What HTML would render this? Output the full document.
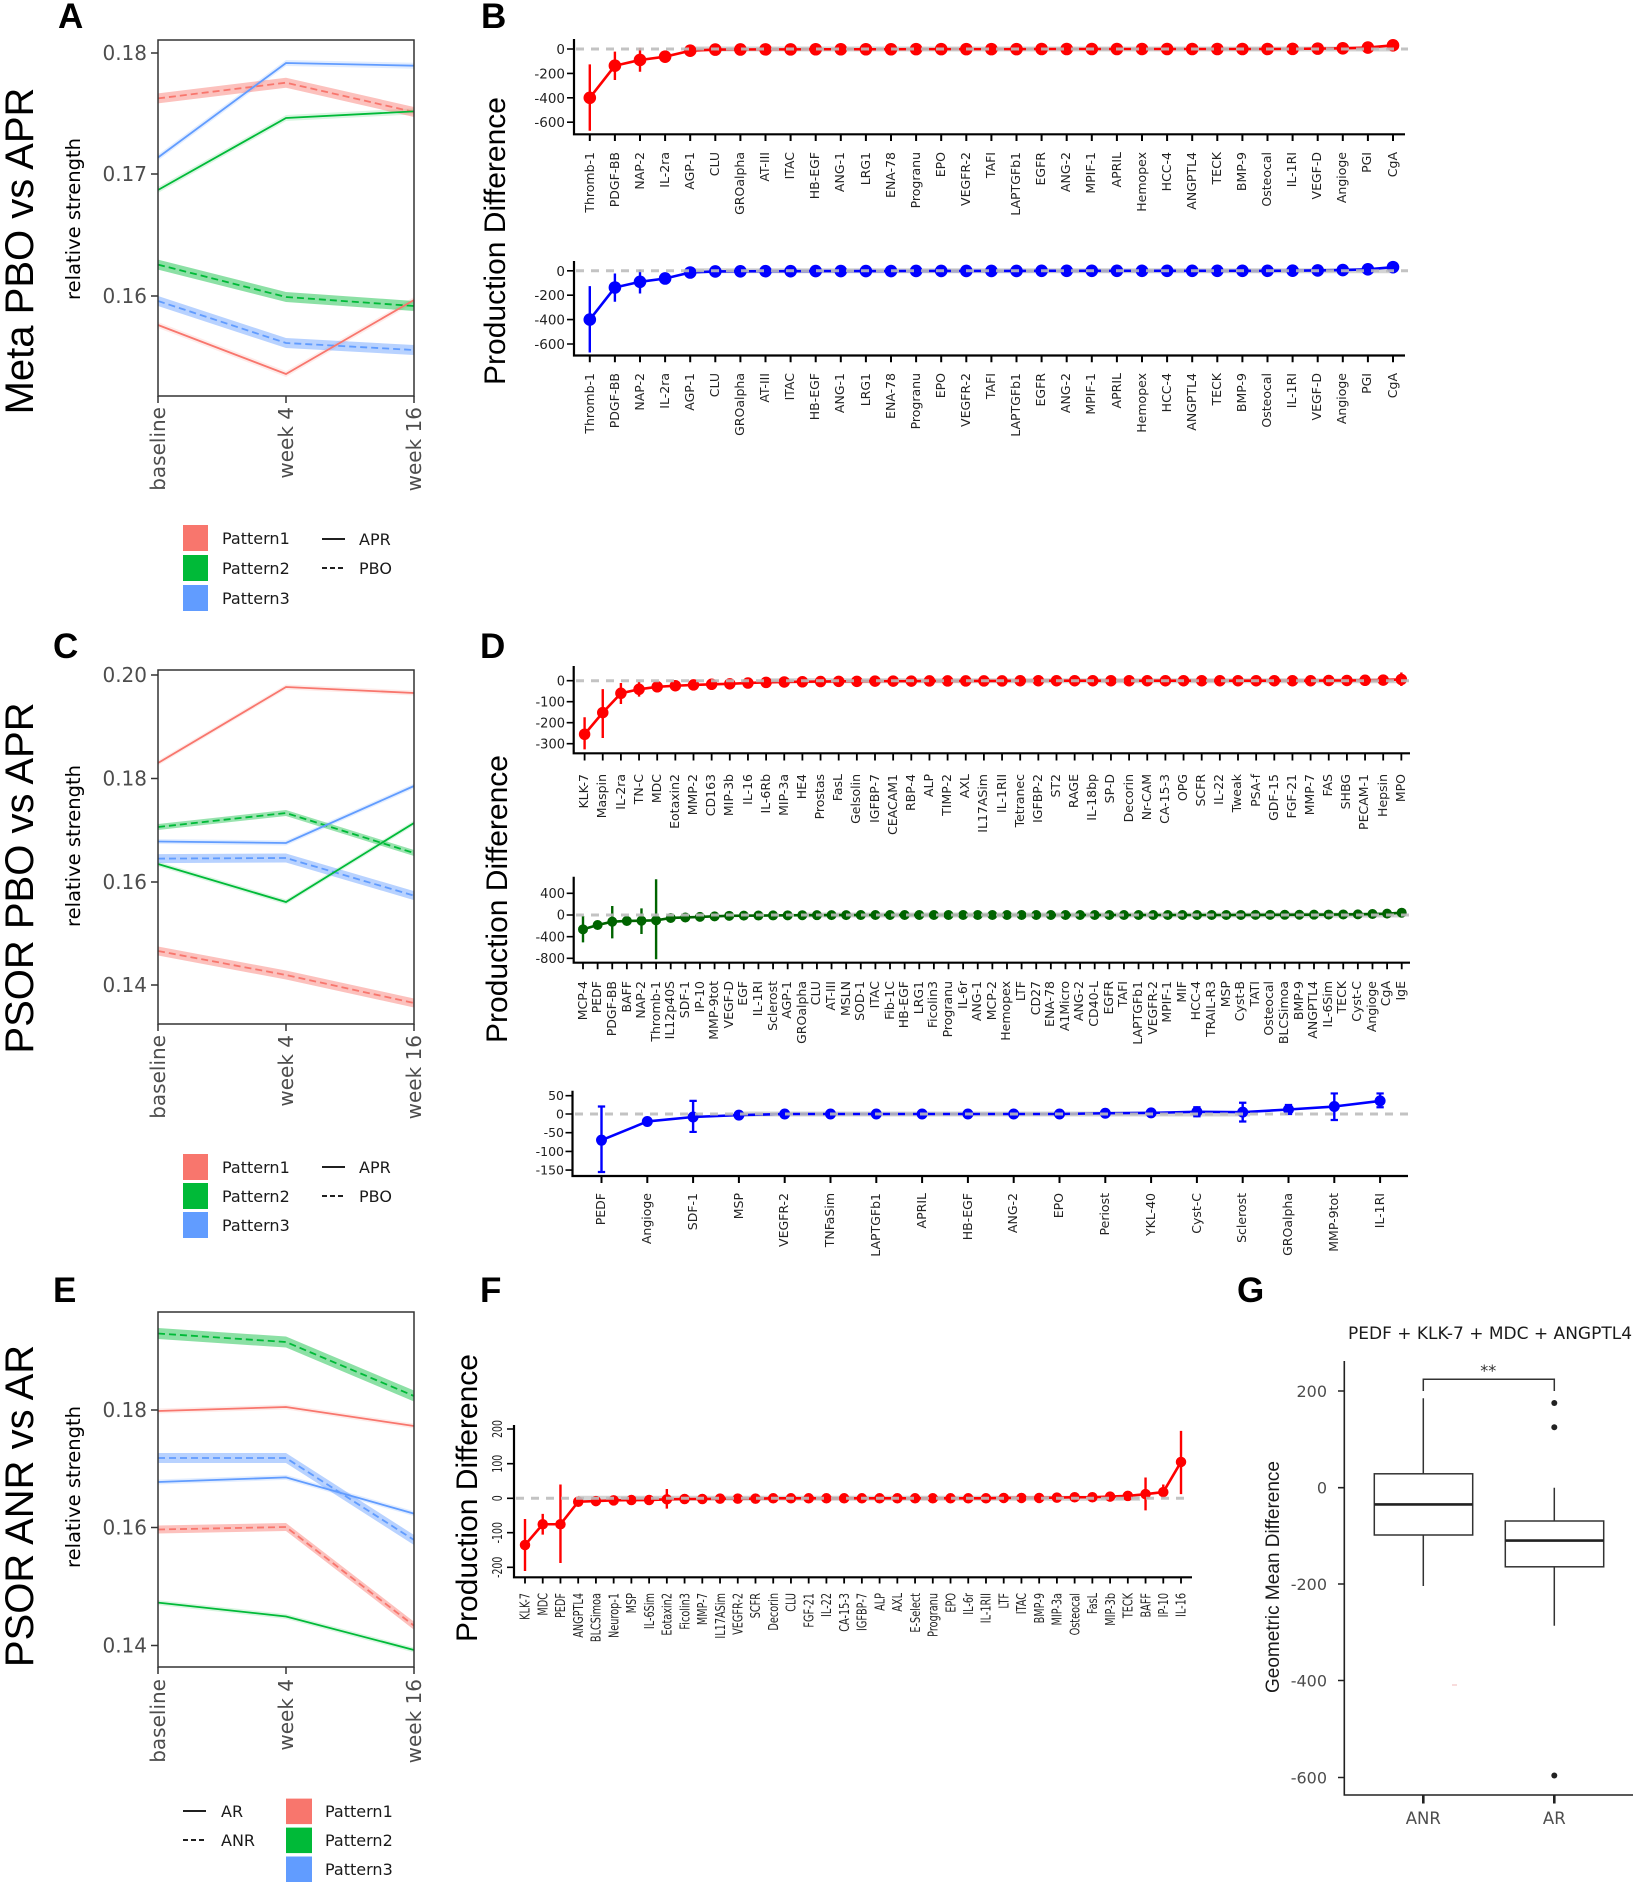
<!DOCTYPE html>
<html><head><meta charset="utf-8"><style>
html,body{margin:0;padding:0;background:#fff}
#w{position:relative;width:1634px;height:1886px;overflow:hidden;background:#fff}
.xl{position:absolute;display:flex;align-items:flex-start;font-family:"DejaVu Sans",sans-serif;font-size:12.5px;color:#222}
.xl>b{font-weight:normal;flex:none;display:flex;justify-content:center;align-items:flex-start}
.xl>b>i{font-style:normal;writing-mode:vertical-rl;transform:rotate(180deg);line-height:1;white-space:nowrap}
.w25>b{width:25.1px}.w18>b{width:18.15px}.w14>b{width:14.62px}.w45>b{width:45.8px}
</style></head><body><div id="w">
<svg width="1634" height="1886" viewBox="0 0 1634 1886" xmlns="http://www.w3.org/2000/svg" style="position:absolute;left:0;top:0">
<style>
.dj{font-family:"DejaVu Sans",sans-serif}
.lb{font-family:"Liberation Sans",sans-serif}
.ns{vector-effect:non-scaling-stroke;fill:none}
</style>
<rect width="1634" height="1886" fill="#fff"/>

<!-- panel letters -->
<g class="lb" font-weight="bold" font-size="35" fill="#000">
<text x="58" y="28">A</text><text x="481" y="28">B</text>
<text x="53" y="658">C</text><text x="480" y="658">D</text>
<text x="53" y="1302">E</text><text x="480" y="1302">F</text>
<text x="1237" y="1302">G</text>
</g>

<!-- row titles -->
<g class="lb" font-size="40" fill="#000" text-anchor="middle">
<text transform="translate(33,251) rotate(-90)">Meta PBO vs APR</text>
<text transform="translate(33,878) rotate(-90)">PSOR PBO vs APR</text>
<text transform="translate(33,1506) rotate(-90)">PSOR ANR vs AR</text>
</g>
<g class="dj" font-size="19.5" fill="#000" text-anchor="middle">
<text transform="translate(80,219) rotate(-90)">relative strength</text>
<text transform="translate(80,846) rotate(-90)">relative strength</text>
<text transform="translate(80,1487) rotate(-90)">relative strength</text>
</g>
<g class="lb" font-size="30" fill="#000" text-anchor="middle">
<text transform="translate(505,241) rotate(-90)">Production Difference</text>
<text transform="translate(507,899) rotate(-90)">Production Difference</text>
<text transform="translate(477,1498) rotate(-90)">Production Difference</text>
</g>

<!-- ============ PANEL A ============ -->
<g>
<polygon points="158,154.5 286,60 414,62.7 414,68.7 286,66 158,160.5" fill="#619CFF" opacity=".18"/>
<polygon points="158,187 286,115 414,108.4 414,114.4 286,121 158,193" fill="#00BA38" opacity=".15"/>
<polygon points="158,322 286,371 414,297 414,303 286,377 158,328" fill="#F8766D" opacity=".15"/>
<polygon points="158,93.4 286,77.7 414,107 414,117 286,87.7 158,103.4" fill="#F8766D" opacity=".45"/>
<polygon points="158,259.6 286,292 414,301 414,311 286,302 158,269.6" fill="#00BA38" opacity=".45"/>
<polygon points="158,296 286,338 414,345 414,355 286,348 158,306" fill="#619CFF" opacity=".45"/>
<g fill="none" stroke-width="1.8">
<polyline points="158,98.4 286,82.7 414,112" stroke="#F8766D" stroke-dasharray="7 4"/>
<polyline points="158,264.6 286,297 414,306" stroke="#00BA38" stroke-dasharray="7 4"/>
<polyline points="158,301 286,343 414,350" stroke="#619CFF" stroke-dasharray="7 4"/>
<polyline points="158,157.5 286,63 414,65.7" stroke="#619CFF"/>
<polyline points="158,190 286,118 414,111.4" stroke="#00BA38"/>
<polyline points="158,325 286,374 414,300" stroke="#F8766D"/>
</g>
<rect x="158" y="40" width="256" height="356" fill="none" stroke="#333" stroke-width="1.5"/>
<path d="M151,53H158M151,174H158M151,296H158M158,396V403M286,396V403M414,396V403" stroke="#333" stroke-width="1.5"/>
<g class="dj" font-size="20" fill="#4d4d4d" text-anchor="end">
<text x="147" y="60">0.18</text><text x="147" y="181">0.17</text><text x="147" y="303">0.16</text>
<text transform="translate(158,407) rotate(-90)" dy="0.35em">baseline</text>
<text transform="translate(286,407) rotate(-90)" dy="0.35em">week 4</text>
<text transform="translate(414,407) rotate(-90)" dy="0.35em">week 16</text>
</g>
<rect x="183" y="525" width="25" height="26" fill="#F8766D"/>
<rect x="183" y="555" width="25" height="26" fill="#00BA38"/>
<rect x="183" y="585" width="25" height="26" fill="#619CFF"/>
<path d="M322,539H345" stroke="#000" stroke-width="1.8"/>
<path d="M322,568H345" stroke="#000" stroke-width="1.8" stroke-dasharray="5 3"/>
<g class="dj" font-size="16" fill="#1a1a1a">
<text x="222" y="544">Pattern1</text><text x="222" y="574">Pattern2</text><text x="222" y="604">Pattern3</text>
<text x="359" y="545">APR</text><text x="359" y="574">PBO</text>
</g>
</g>

<!-- ============ PANEL C ============ -->
<g>
<polygon points="158,760.5 286,684.5 414,690.5 414,695.5 286,689.5 158,765.5" fill="#F8766D" opacity=".15"/>
<polygon points="158,839 286,840.5 414,783.5 414,788.5 286,845.5 158,844" fill="#619CFF" opacity=".18"/>
<polygon points="158,861.5 286,899.5 414,820.5 414,825.5 286,904.5 158,866.5" fill="#00BA38" opacity=".15"/>
<polygon points="158,824 286,810 414,850 414,856 286,816 158,830" fill="#00BA38" opacity=".4"/>
<polygon points="158,854.1 286,853.5 414,891.1 414,900.1 286,862.5 158,863.1" fill="#619CFF" opacity=".45"/>
<polygon points="158,946.5 286,970.5 414,998.5 414,1007.5 286,979.5 158,955.5" fill="#F8766D" opacity=".45"/>
<g fill="none" stroke-width="1.8">
<polyline points="158,827 286,813 414,853" stroke="#00BA38" stroke-dasharray="7 4"/>
<polyline points="158,858.6 286,858 414,895.6" stroke="#619CFF" stroke-dasharray="7 4"/>
<polyline points="158,951 286,975 414,1003" stroke="#F8766D" stroke-dasharray="7 4"/>
<polyline points="158,763 286,687 414,693" stroke="#F8766D"/>
<polyline points="158,841.5 286,843 414,786" stroke="#619CFF"/>
<polyline points="158,864 286,902 414,823" stroke="#00BA38"/>
</g>
<rect x="158" y="670" width="256" height="354" fill="none" stroke="#333" stroke-width="1.5"/>
<path d="M151,675H158M151,778.5H158M151,882H158M151,985H158M158,1024V1031M286,1024V1031M414,1024V1031" stroke="#333" stroke-width="1.5"/>
<g class="dj" font-size="20" fill="#4d4d4d" text-anchor="end">
<text x="147" y="682">0.20</text><text x="147" y="785.5">0.18</text><text x="147" y="889">0.16</text><text x="147" y="992">0.14</text>
<text transform="translate(158,1035) rotate(-90)" dy="0.35em">baseline</text>
<text transform="translate(286,1035) rotate(-90)" dy="0.35em">week 4</text>
<text transform="translate(414,1035) rotate(-90)" dy="0.35em">week 16</text>
</g>
<rect x="183" y="1154" width="25" height="26" fill="#F8766D"/>
<rect x="183" y="1183" width="25" height="26" fill="#00BA38"/>
<rect x="183" y="1212" width="25" height="26" fill="#619CFF"/>
<path d="M322,1167H345" stroke="#000" stroke-width="1.8"/>
<path d="M322,1196H345" stroke="#000" stroke-width="1.8" stroke-dasharray="5 3"/>
<g class="dj" font-size="16" fill="#1a1a1a">
<text x="222" y="1173">Pattern1</text><text x="222" y="1202">Pattern2</text><text x="222" y="1231">Pattern3</text>
<text x="359" y="1173">APR</text><text x="359" y="1202">PBO</text>
</g>
</g>

<!-- ============ PANEL E ============ -->
<g>
<polygon points="158,1408.5 286,1404.5 414,1423.5 414,1428.5 286,1409.5 158,1413.5" fill="#F8766D" opacity=".15"/>
<polygon points="158,1479.5 286,1474.9 414,1511.1 414,1516.1 286,1479.9 158,1484.5" fill="#619CFF" opacity=".18"/>
<polygon points="158,1600.1 286,1614 414,1647.5 414,1652.5 286,1619 158,1605.1" fill="#00BA38" opacity=".15"/>
<polygon points="158,1328 286,1336.5 414,1390.5 414,1401.5 286,1347.5 158,1339" fill="#00BA38" opacity=".45"/>
<polygon points="158,1453 286,1453 414,1535 414,1545 286,1463 158,1463" fill="#619CFF" opacity=".45"/>
<polygon points="158,1525.5 286,1523 414,1621.7 414,1629.7 286,1531 158,1533.5" fill="#F8766D" opacity=".45"/>
<g fill="none" stroke-width="1.8">
<polyline points="158,1333.5 286,1342 414,1396" stroke="#00BA38" stroke-dasharray="7 4"/>
<polyline points="158,1458 286,1458 414,1540" stroke="#619CFF" stroke-dasharray="7 4"/>
<polyline points="158,1529.5 286,1527 414,1625.7" stroke="#F8766D" stroke-dasharray="7 4"/>
<polyline points="158,1411 286,1407 414,1426" stroke="#F8766D"/>
<polyline points="158,1482 286,1477.4 414,1513.6" stroke="#619CFF"/>
<polyline points="158,1602.6 286,1616.5 414,1650" stroke="#00BA38"/>
</g>
<rect x="158" y="1312" width="256" height="355" fill="none" stroke="#333" stroke-width="1.5"/>
<path d="M151,1410H158M151,1527.5H158M151,1645.5H158M158,1667V1674M286,1667V1674M414,1667V1674" stroke="#333" stroke-width="1.5"/>
<g class="dj" font-size="20" fill="#4d4d4d" text-anchor="end">
<text x="147" y="1417">0.18</text><text x="147" y="1534.5">0.16</text><text x="147" y="1652.5">0.14</text>
<text transform="translate(158,1679) rotate(-90)" dy="0.35em">baseline</text>
<text transform="translate(286,1679) rotate(-90)" dy="0.35em">week 4</text>
<text transform="translate(414,1679) rotate(-90)" dy="0.35em">week 16</text>
</g>
<path d="M183,1811H206" stroke="#000" stroke-width="1.8"/>
<path d="M183,1840H206" stroke="#000" stroke-width="1.8" stroke-dasharray="5 3"/>
<rect x="286" y="1798.6" width="26" height="25.5" fill="#F8766D"/>
<rect x="286" y="1827.6" width="26" height="25.5" fill="#00BA38"/>
<rect x="286" y="1856.5" width="26" height="25.5" fill="#619CFF"/>
<g class="dj" font-size="16" fill="#1a1a1a">
<text x="221" y="1817">AR</text><text x="221" y="1846">ANR</text>
<text x="325" y="1817">Pattern1</text><text x="325" y="1846">Pattern2</text><text x="325" y="1875">Pattern3</text>
</g>
</g>

<!-- ============ PANEL B (red) ============ -->
<path d="M690,49H1395" stroke="#d4d4d4" stroke-width="5"/>
<g transform="translate(589.8,49) scale(25.1,-0.122)" stroke="#ff0000">
<polyline class="ns" stroke-width="2.6" stroke-linejoin="round" points="0,-400 1,-137 2,-90 3,-63 4,-14 5,-5 6,-4 7,-3 8,-3 9,-2 10,-2 11,-2 12,-2 13,-1 14,-1 15,-1 16,-1 17,-1 18,0 27,0 28,1 29,3 30,6 31,12 32,30"/>
<path class="ns" stroke-width="2.4" d="M0,-126V-670M1,-22V-254M2,11V-186M3,-48V-78M4,-2V-26M31,22V2M32,45V15"/>
<path class="ns" stroke-width="12.6" stroke-linecap="round" d="M0,-400v.01M1,-137v.01M2,-90v.01M3,-63v.01M4,-14v.01M5,-5v.01M6,-4v.01M7,-3v.01M8,-3v.01M9,-2v.01M10,-2v.01M11,-2v.01M12,-2v.01M13,-1v.01M14,-1v.01M15,-1v.01M16,-1v.01M17,-1v.01M18,0v.01M19,0v.01M20,0v.01M21,0v.01M22,0v.01M23,0v.01M24,0v.01M25,0v.01M26,0v.01M27,0v.01M28,1v.01M29,3v.01M30,6v.01M31,12v.01M32,30v.01"/>
</g>
<path d="M576,49H1408" stroke="#bdbdbd" stroke-width="3" stroke-dasharray="8 7" opacity=".9"/>
<path d="M574,39V134.3H1405" fill="none" stroke="#000" stroke-width="2.2"/>
<path d="M567,49H574M567,73.4H574M567,97.8H574M567,122.2H574" stroke="#000" stroke-width="1.6"/>
<path d="M588.8,137.5H1394" stroke="#000" stroke-width="7" stroke-dasharray="2 23.1"/>
<g class="dj" font-size="13.5" fill="#222" text-anchor="end">
<text x="565" y="54">0</text><text x="565" y="78.4">-200</text><text x="565" y="102.8">-400</text><text x="565" y="127.2">-600</text>
</g>

<!-- ============ PANEL B (blue) ============ -->
<path d="M690,270.8H1395" stroke="#d4d4d4" stroke-width="5"/>
<g transform="translate(589.8,270.8) scale(25.1,-0.122)" stroke="#0000ff">
<polyline class="ns" stroke-width="2.6" stroke-linejoin="round" points="0,-400 1,-137 2,-90 3,-63 4,-14 5,-5 6,-4 7,-3 8,-3 9,-2 10,-2 11,-2 12,-2 13,-1 14,-1 15,-1 16,-1 17,-1 18,0 27,0 28,1 29,3 30,6 31,12 32,30"/>
<path class="ns" stroke-width="2.4" d="M0,-126V-670M1,-22V-254M2,11V-186M3,-48V-78M4,-2V-26M31,22V2M32,45V15"/>
<path class="ns" stroke-width="12.6" stroke-linecap="round" d="M0,-400v.01M1,-137v.01M2,-90v.01M3,-63v.01M4,-14v.01M5,-5v.01M6,-4v.01M7,-3v.01M8,-3v.01M9,-2v.01M10,-2v.01M11,-2v.01M12,-2v.01M13,-1v.01M14,-1v.01M15,-1v.01M16,-1v.01M17,-1v.01M18,0v.01M19,0v.01M20,0v.01M21,0v.01M22,0v.01M23,0v.01M24,0v.01M25,0v.01M26,0v.01M27,0v.01M28,1v.01M29,3v.01M30,6v.01M31,12v.01M32,30v.01"/>
</g>
<path d="M576,270.8H1408" stroke="#bdbdbd" stroke-width="3" stroke-dasharray="8 7" opacity=".9"/>
<path d="M574,261V355.5H1405" fill="none" stroke="#000" stroke-width="2.2"/>
<path d="M567,270.8H574M567,295.2H574M567,319.6H574M567,344H574" stroke="#000" stroke-width="1.6"/>
<path d="M588.8,358.7H1394" stroke="#000" stroke-width="7" stroke-dasharray="2 23.1"/>
<g class="dj" font-size="13.5" fill="#222" text-anchor="end">
<text x="565" y="275.8">0</text><text x="565" y="300.2">-200</text><text x="565" y="324.6">-400</text><text x="565" y="349">-600</text>
</g>

<!-- ============ PANEL D top (red) ============ -->
<path d="M766,680.7H1400" stroke="#d4d4d4" stroke-width="5"/>
<g transform="translate(584.6,680.7) scale(18.15,-0.21)" stroke="#ff0000">
<polyline class="ns" stroke-width="2.6" stroke-linejoin="round" points="0,-255 1,-152 2,-60 3,-41 4,-29 5,-24 6,-20 7,-17 8,-15 9,-11 10,-8 11,-6 12,-5 13,-4 14,-3 15,-3 16,-2 17,-2 18,-2 19,-1 20,-1 21,-1 22,-1 23,-1 24,0 40,0 41,1 42,1 43,2 44,3 45,6"/>
<path class="ns" stroke-width="2.4" d="M0,-174V-327M1,-40V-273M2,-11V-111M3,-6V-76M4,-20V-38M5,-17V-31M9,5V-27M10,2V-18M45,39V-25"/>
<path class="ns" stroke-width="11.5" stroke-linecap="round" d="M0,-255v.01M1,-152v.01M2,-60v.01M3,-41v.01M4,-29v.01M5,-24v.01M6,-20v.01M7,-17v.01M8,-15v.01M9,-11v.01M10,-8v.01M11,-6v.01M12,-5v.01M13,-4v.01M14,-3v.01M15,-3v.01M16,-2v.01M17,-2v.01M18,-2v.01M19,-1v.01M20,-1v.01M21,-1v.01M22,-1v.01M23,-1v.01M24,0v.01M25,0v.01M26,0v.01M27,0v.01M28,0v.01M29,0v.01M30,0v.01M31,0v.01M32,0v.01M33,0v.01M34,0v.01M35,0v.01M36,0v.01M37,0v.01M38,0v.01M39,0v.01M40,0v.01M41,1v.01M42,1v.01M43,2v.01M44,3v.01M45,6v.01"/>
</g>
<path d="M576,680.7H1412" stroke="#bdbdbd" stroke-width="3" stroke-dasharray="8 7" opacity=".9"/>
<path d="M573.7,666V753.3H1410" fill="none" stroke="#000" stroke-width="2.2"/>
<path d="M566.7,680.7H573.7M566.7,701.7H573.7M566.7,722.7H573.7M566.7,743.7H573.7" stroke="#000" stroke-width="1.6"/>
<path d="M583.7,757H1402.4" stroke="#000" stroke-width="7" stroke-dasharray="1.8 16.35"/>
<g class="dj" font-size="13" fill="#222" text-anchor="end">
<text x="565" y="685.5">0</text><text x="565" y="706.5">-100</text><text x="565" y="727.5">-200</text><text x="565" y="748.5">-300</text>
</g>

<!-- ============ PANEL D middle (green) ============ -->
<path d="M802,915H1400" stroke="#d4d4d4" stroke-width="5"/>
<g transform="translate(583,915) scale(14.62,-0.05425)" stroke="#006400">
<polyline class="ns" stroke-width="2.6" stroke-linejoin="round" points="0,-264 1,-184 2,-123 3,-110 4,-105 5,-98 6,-55 7,-45 8,-35 9,-25 10,-15 11,-12 12,-10 13,-8 14,-6 15,-4 16,-3 17,-2 18,-2 19,-1 20,0 44,0 45,1 46,2 47,3 48,4 49,5 50,6 51,8 52,10 53,12 54,18 55,25 56,42"/>
<path class="ns" stroke-width="2.4" d="M0,-18V-505M1,-130V-240M2,166V-430M3,-80V-140M4,123V-350M5,658V-816M6,-30V-80M56,70V14"/>
<path class="ns" stroke-width="10" stroke-linecap="round" d="M0,-264v.01M1,-184v.01M2,-123v.01M3,-110v.01M4,-105v.01M5,-98v.01M6,-55v.01M7,-45v.01M8,-35v.01M9,-25v.01M10,-15v.01M11,-12v.01M12,-10v.01M13,-8v.01M14,-6v.01M15,-4v.01M16,-3v.01M17,-2v.01M18,-2v.01M19,-1v.01M20,0v.01M21,0v.01M22,0v.01M23,0v.01M24,0v.01M25,0v.01M26,0v.01M27,0v.01M28,0v.01M29,0v.01M30,0v.01M31,0v.01M32,0v.01M33,0v.01M34,0v.01M35,0v.01M36,0v.01M37,0v.01M38,0v.01M39,0v.01M40,0v.01M41,0v.01M42,0v.01M43,0v.01M44,0v.01M45,1v.01M46,2v.01M47,3v.01M48,4v.01M49,5v.01M50,6v.01M51,8v.01M52,10v.01M53,12v.01M54,18v.01M55,25v.01M56,42v.01"/>
</g>
<path d="M576,915H1412" stroke="#bdbdbd" stroke-width="3" stroke-dasharray="8 7" opacity=".9"/>
<path d="M573.7,876.7V962.7H1410" fill="none" stroke="#000" stroke-width="2.2"/>
<path d="M566.7,893.3H573.7M566.7,915H573.7M566.7,936.7H573.7M566.7,958.3H573.7" stroke="#000" stroke-width="1.6"/>
<path d="M582.1,966H1402.7" stroke="#000" stroke-width="6.5" stroke-dasharray="1.8 12.82"/>
<g class="dj" font-size="13" fill="#222" text-anchor="end">
<text x="565" y="898">400</text><text x="565" y="919.7">0</text><text x="565" y="941.4">-400</text><text x="565" y="963">-800</text>
</g>

<!-- ============ PANEL D bottom (blue) ============ -->
<path d="M739,1114H1250" stroke="#d4d4d4" stroke-width="5"/>
<g transform="translate(601.5,1114) scale(45.8,-0.374)" stroke="#0000ff">
<polyline class="ns" stroke-width="2.6" stroke-linejoin="round" points="0,-70 1,-20 2,-8 3,-3 4,0 10,0 11,2 12,3 13,6 14,5 15,12 16,20 17,35"/>
<path class="ns" stroke-width="2.4" d="M0,20V-155M1,-12V-28M2,35V-48M13,18V-6M14,30V-20M15,24V0M16,55V-16M17,55V18"/>
<path class="ns" stroke-width="2.2" d="M-.08,20H.08M-.08,-155H.08M1.92,35H2.08M1.92,-48H2.08M12.92,18H13.08M12.92,-6H13.08M13.92,30H14.08M13.92,-20H14.08M14.92,24H15.08M14.92,0H15.08M15.92,55H16.08M15.92,-16H16.08M16.92,55H17.08M16.92,18H17.08"/>
<path class="ns" stroke-width="11" stroke-linecap="round" d="M0,-70v.01M1,-20v.01M2,-8v.01M3,-3v.01M4,0v.01M5,0v.01M6,0v.01M7,0v.01M8,0v.01M9,0v.01M10,0v.01M11,2v.01M12,3v.01M13,6v.01M14,5v.01M15,12v.01M16,20v.01M17,35v.01"/>
</g>
<path d="M575,1114H1410" stroke="#bdbdbd" stroke-width="3" stroke-dasharray="8 7" opacity=".9"/>
<path d="M572.5,1090.7V1176H1408" fill="none" stroke="#000" stroke-width="2.2"/>
<path d="M565.5,1095.7H572.5M565.5,1114H572.5M565.5,1132.7H572.5M565.5,1151.4H572.5M565.5,1170.1H572.5" stroke="#000" stroke-width="1.6"/>
<path d="M600.5,1179.5H1382" stroke="#000" stroke-width="7" stroke-dasharray="2 43.8"/>
<g class="dj" font-size="12.5" fill="#222" text-anchor="end">
<text x="564" y="1100.2">50</text><text x="564" y="1118.5">0</text><text x="564" y="1137.2">-50</text><text x="564" y="1155.9">-100</text><text x="564" y="1174.6">-150</text>
</g>

<!-- ============ PANEL F ============ -->
<path d="M578,1498.3H1140" stroke="#d4d4d4" stroke-width="5"/>
<g transform="translate(525,1498.3) scale(17.73,-0.346)" stroke="#ff0000">
<polyline class="ns" stroke-width="2.6" stroke-linejoin="round" points="0,-135 1,-75 2,-75 3,-10 4,-8 5,-6 6,-5 7,-5 8,-3 9,-2 10,-2 11,-1 12,-1 13,-1 14,0 26,0 27,1 28,1 29,1 30,2 31,3 32,3 33,5 34,7 35,12 36,18 37,105"/>
<path class="ns" stroke-width="2.4" d="M0,-60V-210M1,-45V-105M2,40V-187M8,27V-30M35,60V-35M36,40V0M37,195V12"/>
<path class="ns" stroke-width="10.5" stroke-linecap="round" d="M0,-135v.01M1,-75v.01M2,-75v.01M3,-10v.01M4,-8v.01M5,-6v.01M6,-5v.01M7,-5v.01M8,-3v.01M9,-2v.01M10,-2v.01M11,-1v.01M12,-1v.01M13,-1v.01M14,0v.01M15,0v.01M16,0v.01M17,0v.01M18,0v.01M19,0v.01M20,0v.01M21,0v.01M22,0v.01M23,0v.01M24,0v.01M25,0v.01M26,0v.01M27,1v.01M28,1v.01M29,1v.01M30,2v.01M31,3v.01M32,3v.01M33,5v.01M34,7v.01M35,12v.01M36,18v.01M37,105v.01"/>
</g>
<path d="M516,1498.3H1190" stroke="#bdbdbd" stroke-width="3" stroke-dasharray="8 7" opacity=".9"/>
<path d="M514,1425V1577.3H1192" fill="none" stroke="#000" stroke-width="2.2"/>
<path d="M507,1429H514M507,1463.7H514M507,1498.3H514M507,1532.7H514M507,1567.3H514" stroke="#000" stroke-width="1.6"/>
<path d="M524.1,1580.5H1182" stroke="#000" stroke-width="6" stroke-dasharray="1.8 15.93"/>
<g class="dj" font-size="13" fill="#222" text-anchor="middle">
<text transform="translate(502,1429) rotate(-90) scale(0.72,1)">200</text>
<text transform="translate(502,1463.7) rotate(-90) scale(0.72,1)">100</text>
<text transform="translate(502,1498.3) rotate(-90) scale(0.72,1)">0</text>
<text transform="translate(502,1532.7) rotate(-90) scale(0.72,1)">-100</text>
<text transform="translate(502,1567.3) rotate(-90) scale(0.72,1)">-200</text>
</g>
<g class="dj" font-size="13.5" fill="#222" text-anchor="end">
<text transform="translate(525,1593) rotate(-90) scale(0.72,1)" dy="0.35em">KLK-7</text>
<text transform="translate(542.73,1593) rotate(-90) scale(0.72,1)" dy="0.35em">MDC</text>
<text transform="translate(560.46,1593) rotate(-90) scale(0.72,1)" dy="0.35em">PEDF</text>
<text transform="translate(578.19,1593) rotate(-90) scale(0.72,1)" dy="0.35em">ANGPTL4</text>
<text transform="translate(595.92,1593) rotate(-90) scale(0.72,1)" dy="0.35em">BLCSimoa</text>
<text transform="translate(613.65,1593) rotate(-90) scale(0.72,1)" dy="0.35em">Neurop-1</text>
<text transform="translate(631.38,1593) rotate(-90) scale(0.72,1)" dy="0.35em">MSP</text>
<text transform="translate(649.11,1593) rotate(-90) scale(0.72,1)" dy="0.35em">IL-6Sim</text>
<text transform="translate(666.84,1593) rotate(-90) scale(0.72,1)" dy="0.35em">Eotaxin2</text>
<text transform="translate(684.57,1593) rotate(-90) scale(0.72,1)" dy="0.35em">Ficolin3</text>
<text transform="translate(702.3,1593) rotate(-90) scale(0.72,1)" dy="0.35em">MMP-7</text>
<text transform="translate(720.03,1593) rotate(-90) scale(0.72,1)" dy="0.35em">IL17ASim</text>
<text transform="translate(737.76,1593) rotate(-90) scale(0.72,1)" dy="0.35em">VEGFR-2</text>
<text transform="translate(755.49,1593) rotate(-90) scale(0.72,1)" dy="0.35em">SCFR</text>
<text transform="translate(773.22,1593) rotate(-90) scale(0.72,1)" dy="0.35em">Decorin</text>
<text transform="translate(790.95,1593) rotate(-90) scale(0.72,1)" dy="0.35em">CLU</text>
<text transform="translate(808.68,1593) rotate(-90) scale(0.72,1)" dy="0.35em">FGF-21</text>
<text transform="translate(826.41,1593) rotate(-90) scale(0.72,1)" dy="0.35em">IL-22</text>
<text transform="translate(844.14,1593) rotate(-90) scale(0.72,1)" dy="0.35em">CA-15-3</text>
<text transform="translate(861.87,1593) rotate(-90) scale(0.72,1)" dy="0.35em">IGFBP-7</text>
<text transform="translate(879.6,1593) rotate(-90) scale(0.72,1)" dy="0.35em">ALP</text>
<text transform="translate(897.33,1593) rotate(-90) scale(0.72,1)" dy="0.35em">AXL</text>
<text transform="translate(915.06,1593) rotate(-90) scale(0.72,1)" dy="0.35em">E-Select</text>
<text transform="translate(932.79,1593) rotate(-90) scale(0.72,1)" dy="0.35em">Progranu</text>
<text transform="translate(950.52,1593) rotate(-90) scale(0.72,1)" dy="0.35em">EPO</text>
<text transform="translate(968.25,1593) rotate(-90) scale(0.72,1)" dy="0.35em">IL-6r</text>
<text transform="translate(985.98,1593) rotate(-90) scale(0.72,1)" dy="0.35em">IL-1RII</text>
<text transform="translate(1003.71,1593) rotate(-90) scale(0.72,1)" dy="0.35em">LTF</text>
<text transform="translate(1021.44,1593) rotate(-90) scale(0.72,1)" dy="0.35em">ITAC</text>
<text transform="translate(1039.17,1593) rotate(-90) scale(0.72,1)" dy="0.35em">BMP-9</text>
<text transform="translate(1056.9,1593) rotate(-90) scale(0.72,1)" dy="0.35em">MIP-3a</text>
<text transform="translate(1074.63,1593) rotate(-90) scale(0.72,1)" dy="0.35em">Osteocal</text>
<text transform="translate(1092.36,1593) rotate(-90) scale(0.72,1)" dy="0.35em">FasL</text>
<text transform="translate(1110.09,1593) rotate(-90) scale(0.72,1)" dy="0.35em">MIP-3b</text>
<text transform="translate(1127.82,1593) rotate(-90) scale(0.72,1)" dy="0.35em">TECK</text>
<text transform="translate(1145.55,1593) rotate(-90) scale(0.72,1)" dy="0.35em">BAFF</text>
<text transform="translate(1163.28,1593) rotate(-90) scale(0.72,1)" dy="0.35em">IP-10</text>
<text transform="translate(1181.01,1593) rotate(-90) scale(0.72,1)" dy="0.35em">IL-16</text>
</g>

<!-- ============ PANEL G ============ -->
<text class="dj" x="1490" y="1339" font-size="17" fill="#1a1a1a" text-anchor="middle">PEDF + KLK-7 + MDC + ANGPTL4</text>
<text class="lb" transform="translate(1279,1577) rotate(-90)" font-size="19" fill="#1a1a1a" text-anchor="middle">Geometric Mean Difference</text>
<path d="M1344.3,1361V1795H1633" fill="none" stroke="#222" stroke-width="1.6"/>
<path d="M1338,1391H1344.3M1338,1487.7H1344.3M1338,1584H1344.3M1338,1680.5H1344.3M1338,1777.5H1344.3" stroke="#222" stroke-width="1.6"/>
<path d="M1423.3,1795V1803.5M1554.3,1795V1803.5" stroke="#222" stroke-width="2.6"/>
<g class="dj" font-size="16" fill="#4d4d4d" text-anchor="end">
<text x="1327" y="1397">200</text><text x="1327" y="1493.7">0</text><text x="1327" y="1590">-200</text><text x="1327" y="1686.5">-400</text><text x="1327" y="1783.5">-600</text>
</g>
<g class="dj" font-size="16.5" fill="#4d4d4d" text-anchor="middle">
<text x="1423.3" y="1824">ANR</text><text x="1554.3" y="1824">AR</text>
</g>
<g fill="none" stroke="#333" stroke-width="1.5">
<rect x="1374.3" y="1473.8" width="98.4" height="61.2" fill="#fff"/>
<path d="M1423.3,1398.3V1473.8M1423.3,1535V1586"/>
<rect x="1505.3" y="1521" width="98.4" height="45.8" fill="#fff"/>
<path d="M1554.3,1487.7V1521M1554.3,1566.8V1625.7"/>
<path d="M1423.3,1391V1379.2H1554.3V1391"/>
</g>
<path d="M1374.3,1504.4H1472.7M1505.3,1540.6H1603.7" stroke="#222" stroke-width="2.6"/>
<g fill="#222"><circle cx="1554.3" cy="1403" r="3"/><circle cx="1554.3" cy="1427.3" r="3"/><circle cx="1554.3" cy="1775.5" r="3"/></g>
<text class="dj" x="1488.3" y="1376" font-size="16" fill="#333" text-anchor="middle">**</text>
<path d="M1452,1685H1457" stroke="#f6d0d0" stroke-width="1.5"/>
</svg>

<!-- B red labels -->
<div class="xl w25" style="left:577.25px;top:151.5px">
<b><i>Thromb-1</i></b><b><i>PDGF-BB</i></b><b><i>NAP-2</i></b><b><i>IL-2ra</i></b><b><i>AGP-1</i></b><b><i>CLU</i></b><b><i>GROalpha</i></b><b><i>AT-III</i></b><b><i>ITAC</i></b><b><i>HB-EGF</i></b><b><i>ANG-1</i></b><b><i>LRG1</i></b><b><i>ENA-78</i></b><b><i>Progranu</i></b><b><i>EPO</i></b><b><i>VEGFR-2</i></b><b><i>TAFI</i></b><b><i>LAPTGFb1</i></b><b><i>EGFR</i></b><b><i>ANG-2</i></b><b><i>MPIF-1</i></b><b><i>APRIL</i></b><b><i>Hemopex</i></b><b><i>HCC-4</i></b><b><i>ANGPTL4</i></b><b><i>TECK</i></b><b><i>BMP-9</i></b><b><i>Osteocal</i></b><b><i>IL-1RI</i></b><b><i>VEGF-D</i></b><b><i>Angioge</i></b><b><i>PGI</i></b><b><i>CgA</i></b>
</div>
<!-- B blue labels -->
<div class="xl w25" style="left:577.25px;top:372.5px">
<b><i>Thromb-1</i></b><b><i>PDGF-BB</i></b><b><i>NAP-2</i></b><b><i>IL-2ra</i></b><b><i>AGP-1</i></b><b><i>CLU</i></b><b><i>GROalpha</i></b><b><i>AT-III</i></b><b><i>ITAC</i></b><b><i>HB-EGF</i></b><b><i>ANG-1</i></b><b><i>LRG1</i></b><b><i>ENA-78</i></b><b><i>Progranu</i></b><b><i>EPO</i></b><b><i>VEGFR-2</i></b><b><i>TAFI</i></b><b><i>LAPTGFb1</i></b><b><i>EGFR</i></b><b><i>ANG-2</i></b><b><i>MPIF-1</i></b><b><i>APRIL</i></b><b><i>Hemopex</i></b><b><i>HCC-4</i></b><b><i>ANGPTL4</i></b><b><i>TECK</i></b><b><i>BMP-9</i></b><b><i>Osteocal</i></b><b><i>IL-1RI</i></b><b><i>VEGF-D</i></b><b><i>Angioge</i></b><b><i>PGI</i></b><b><i>CgA</i></b>
</div>
<!-- D top labels -->
<div class="xl w18" style="left:575.5px;top:774px">
<b><i>KLK-7</i></b><b><i>Maspin</i></b><b><i>IL-2ra</i></b><b><i>TN-C</i></b><b><i>MDC</i></b><b><i>Eotaxin2</i></b><b><i>MMP-2</i></b><b><i>CD163</i></b><b><i>MIP-3b</i></b><b><i>IL-16</i></b><b><i>IL-6Rb</i></b><b><i>MIP-3a</i></b><b><i>HE4</i></b><b><i>Prostas</i></b><b><i>FasL</i></b><b><i>Gelsolin</i></b><b><i>IGFBP-7</i></b><b><i>CEACAM1</i></b><b><i>RBP-4</i></b><b><i>ALP</i></b><b><i>TIMP-2</i></b><b><i>AXL</i></b><b><i>IL17ASim</i></b><b><i>IL-1RII</i></b><b><i>Tetranec</i></b><b><i>IGFBP-2</i></b><b><i>ST2</i></b><b><i>RAGE</i></b><b><i>IL-18bp</i></b><b><i>SP-D</i></b><b><i>Decorin</i></b><b><i>Nr-CAM</i></b><b><i>CA-15-3</i></b><b><i>OPG</i></b><b><i>SCFR</i></b><b><i>IL-22</i></b><b><i>Tweak</i></b><b><i>PSA-f</i></b><b><i>GDF-15</i></b><b><i>FGF-21</i></b><b><i>MMP-7</i></b><b><i>FAS</i></b><b><i>SHBG</i></b><b><i>PECAM-1</i></b><b><i>Hepsin</i></b><b><i>MPO</i></b>
</div>
<!-- D middle labels -->
<div class="xl w14" style="left:575.7px;top:981px">
<b><i>MCP-4</i></b><b><i>PEDF</i></b><b><i>PDGF-BB</i></b><b><i>BAFF</i></b><b><i>NAP-2</i></b><b><i>Thromb-1</i></b><b><i>IL12p40S</i></b><b><i>SDF-1</i></b><b><i>IP-10</i></b><b><i>MMP-9tot</i></b><b><i>VEGF-D</i></b><b><i>EGF</i></b><b><i>IL-1RI</i></b><b><i>Sclerost</i></b><b><i>AGP-1</i></b><b><i>GROalpha</i></b><b><i>CLU</i></b><b><i>AT-III</i></b><b><i>MSLN</i></b><b><i>SOD-1</i></b><b><i>ITAC</i></b><b><i>Fib-1C</i></b><b><i>HB-EGF</i></b><b><i>LRG1</i></b><b><i>Ficolin3</i></b><b><i>Progranu</i></b><b><i>IL-6r</i></b><b><i>ANG-1</i></b><b><i>MCP-2</i></b><b><i>Hemopex</i></b><b><i>LTF</i></b><b><i>CD27</i></b><b><i>ENA-78</i></b><b><i>A1Micro</i></b><b><i>ANG-2</i></b><b><i>CD40-L</i></b><b><i>EGFR</i></b><b><i>TAFI</i></b><b><i>LAPTGFb1</i></b><b><i>VEGFR-2</i></b><b><i>MPIF-1</i></b><b><i>MIF</i></b><b><i>HCC-4</i></b><b><i>TRAIL-R3</i></b><b><i>MSP</i></b><b><i>Cyst-B</i></b><b><i>TATI</i></b><b><i>Osteocal</i></b><b><i>BLCSimoa</i></b><b><i>BMP-9</i></b><b><i>ANGPTL4</i></b><b><i>IL-6Sim</i></b><b><i>TECK</i></b><b><i>Cyst-C</i></b><b><i>Angioge</i></b><b><i>CgA</i></b><b><i>IgE</i></b>
</div>
<!-- D bottom labels -->
<div class="xl w45" style="left:578.6px;top:1193px">
<b><i>PEDF</i></b><b><i>Angioge</i></b><b><i>SDF-1</i></b><b><i>MSP</i></b><b><i>VEGFR-2</i></b><b><i>TNFaSim</i></b><b><i>LAPTGFb1</i></b><b><i>APRIL</i></b><b><i>HB-EGF</i></b><b><i>ANG-2</i></b><b><i>EPO</i></b><b><i>Periost</i></b><b><i>YKL-40</i></b><b><i>Cyst-C</i></b><b><i>Sclerost</i></b><b><i>GROalpha</i></b><b><i>MMP-9tot</i></b><b><i>IL-1RI</i></b>
</div>
</div></body></html>
